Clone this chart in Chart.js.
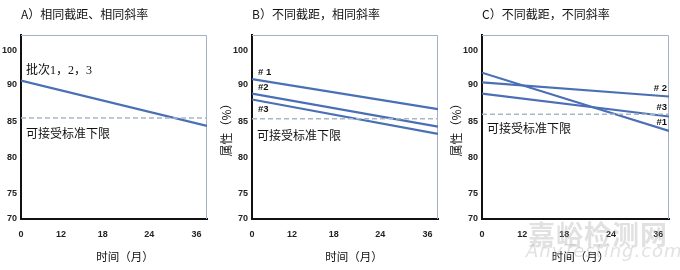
<!DOCTYPE html>
<html><head><meta charset="utf-8">
<script src="https://cdn.jsdelivr.net/npm/chart.js@4.4.0/dist/chart.umd.min.js"></script>
<style>
html,body{margin:0;padding:0;background:#fff;width:680px;height:270px;overflow:hidden}
.panel{position:absolute;top:0;height:270px}
.wm{position:absolute;color:rgba(170,170,170,0.35);white-space:nowrap;pointer-events:none;z-index:5}
</style></head><body>
<div class="panel" style="left:0;width:215px"><canvas id="cA" width="215" height="270"></canvas></div>
<div class="panel" style="left:215px;width:230px"><canvas id="cB" width="230" height="270"></canvas></div>
<div class="panel" style="left:445px;width:235px"><canvas id="cC" width="235" height="270"></canvas></div>
<div class="wm" style="left:528px;top:214px;font:bold 27px 'Noto Sans CJK SC';letter-spacing:1px">嘉峪检测网</div>
<div class="wm" style="left:526px;top:240px;font:italic 18px 'DejaVu Sans';letter-spacing:1px">AnyTesting.com</div>
<script>
// ---- data ----
const monthTicks = [0, 12, 18, 24, 36];
const percentTicks = [70, 75, 80, 85, 90, 100];
const months = [0, 39];               // start of study and right edge of the plot
const seriesA  = [91.2, 84.4];        // batches 1, 2, 3 (identical)
const seriesB1 = [91.6, 86.7];
const seriesB2 = [88.8, 84.3];
const seriesB3 = [88.0, 83.3];
const seriesC1 = [93.5, 83.7];
const seriesC2 = [90.7, 88.4];
const seriesC3 = [88.8, 85.7];
const limits = [85.5, 85.4, 86.0];    // acceptance lower limit line (A, B, C)
const titles = ['A）相同截距、相同斜率', 'B）不同截距，相同斜率', 'C）不同截距，不同斜率'];

// ---- axis geometry of the schematic (uneven label spacing) ----
const Y_BREAKS = [[70,0],[75,0.141],[80,0.335],[85,0.529],[90,0.73],[100,0.916],[104.5,1]];
const X_BREAKS = [[0,0],[12,0.215],[18,0.44],[24,0.69],[36,0.943],[39,1]];
function interp(bks, v, a, b) {
  if (v <= bks[0][a]) return bks[0][b];
  for (let i = 1; i < bks.length; i++) {
    if (v <= bks[i][a]) {
      const p = bks[i-1], q = bks[i];
      return p[b] + (v - p[a]) / (q[a] - p[a]) * (q[b] - p[b]);
    }
  }
  return bks[bks.length-1][b];
}
class PiecewiseScale extends Chart.LinearScale {
  _breaks() { return this.axis === 'x' ? X_BREAKS : Y_BREAKS; }
  getPixelForValue(value) { return this.getPixelForDecimal(interp(this._breaks(), value, 0, 1)); }
  getValueForPixel(pixel) { return interp(this._breaks(), this.getDecimalForPixel(pixel), 1, 0); }
  drawTitle() {
    const s = (this.options.title && this.options.title.shiftX) || 0;
    this.ctx.save(); this.ctx.translate(s, 0); super.drawTitle(); this.ctx.restore();
  }
}
PiecewiseScale.id = 'piecewise';
PiecewiseScale.defaults = Chart.LinearScale.defaults;
Chart.register(PiecewiseScale);

const LINE = '#4a6fb5';
const CJK = '"Noto Sans CJK SC", sans-serif';
const TICKFONT = {family: '"Liberation Sans", Arial, sans-serif', size: 9, weight: 'bold'};

function lineDs(vals) {
  return {data: months.map((m, i) => ({x: m, y: vals[i]})), borderColor: LINE, borderWidth: 2.2, pointRadius: 0, tension: 0, fill: false};
}
function limitDs(v) {
  return {data: months.map(m => ({x: m, y: v})), borderColor: '#a7b7c8', borderWidth: 1.5, borderDash: [5, 3], pointRadius: 0, fill: false};
}

const framePlugin = {
  id: 'frame',
  beforeDatasetsDraw(chart) {
    const {ctx, chartArea: a} = chart;
    ctx.save();
    ctx.strokeStyle = '#a4b1c4'; ctx.lineWidth = 1;
    ctx.beginPath();
    ctx.moveTo(a.left, a.top + 0.5); ctx.lineTo(a.right - 0.5, a.top + 0.5); ctx.lineTo(a.right - 0.5, a.bottom);
    ctx.stroke();
    ctx.restore();
  }
};
function notesPlugin(items) {
  return {
    id: 'notes',
    afterDatasetsDraw(chart) {
      const {ctx, scales} = chart;
      ctx.save();
      items.forEach(it => {
        ctx.font = it.font; ctx.fillStyle = '#111'; ctx.textAlign = it.align || 'left'; ctx.textBaseline = 'middle';
        ctx.fillText(it.text, scales.x.getPixelForValue(it.x) + it.dx, scales.y.getPixelForValue(it.y) + it.dy);
      });
      ctx.restore();
    }
  };
}

function makeChart(id, title, datasets, notes, yTitle, yWidth, padRight, xShift) {
  return new Chart(document.getElementById(id), {
    type: 'line',
    data: {datasets},
    options: {
      responsive: false, animation: false, devicePixelRatio: 1,
      layout: {padding: {left: 0, right: padRight, top: 0, bottom: 2}},
      plugins: {
        legend: {display: false}, tooltip: {enabled: false},
        title: {display: true, text: title, align: 'start', fullSize: false, color: '#111',
                font: {family: CJK, size: 12, weight: 'normal'}, padding: {top: 7, bottom: 13.6}}
      },
      scales: {
        x: {type: 'piecewise', min: 0, max: 39, grid: {display: false, drawTicks: false},
            border: {display: true, color: '#111', width: 2},
            ticks: {font: TICKFONT, color: '#222', padding: 10, maxRotation: 0, autoSkip: false},
            afterBuildTicks: s => { s.ticks = monthTicks.map(v => ({value: v})); },
            title: {display: true, text: '时间（月）', color: '#111', font: {family: CJK, size: 11.5}, shiftX: xShift},
            afterFit: s => { s.height = 49; }},
        y: {type: 'piecewise', min: 70, max: 104.5, grid: {display: false, drawTicks: false},
            border: {display: true, color: '#111', width: 2},
            ticks: {font: TICKFONT, color: '#222', padding: 4, autoSkip: false},
            afterBuildTicks: s => { s.ticks = percentTicks.map(v => ({value: v})); },
            title: {display: !!yTitle, text: yTitle || '', color: '#111', font: {family: CJK, size: 12}},
            afterFit: s => { s.width = yWidth; }}
      }
    },
    plugins: [framePlugin, notesPlugin(notes)]
  });
}

const noteFont = '12px ' + CJK;
const tagFont = 'bold 9.5px "Liberation Sans", Arial, sans-serif';

makeChart('cA', titles[0], [limitDs(limits[0]), lineDs(seriesA)], [
  {text: '批次1，2，3', x: 0, y: seriesA[0], dx: 5, dy: -10, font: '12px "Liberation Serif", ' + CJK},
  {text: '可接受标准下限', x: 0, y: limits[0], dx: 5, dy: 15, font: noteFont}
], null, 21, 8, 11);

makeChart('cB', titles[1], [limitDs(limits[1]), lineDs(seriesB1), lineDs(seriesB2), lineDs(seriesB3)], [
  {text: '# 1', x: 0, y: seriesB1[0], dx: 6, dy: -7, font: tagFont},
  {text: '#2', x: 0, y: seriesB2[0], dx: 6, dy: -6, font: tagFont},
  {text: '#3', x: 0, y: seriesB3[0], dx: 6, dy: 10, font: tagFont},
  {text: '可接受标准下限', x: 0, y: limits[1], dx: 5, dy: 17, font: noteFont}
], '属性（%）', 37, 7, 9);

makeChart('cC', titles[2], [limitDs(limits[2]), lineDs(seriesC1), lineDs(seriesC2), lineDs(seriesC3)], [
  {text: '# 2', x: 39, y: seriesC2[1], dx: -2, dy: -8, align: 'right', font: tagFont},
  {text: '#3', x: 39, y: seriesC3[1], dx: -2, dy: -9, align: 'right', font: tagFont},
  {text: '#1', x: 39, y: seriesC1[1], dx: -2, dy: -9, align: 'right', font: tagFont},
  {text: '可接受标准下限', x: 0, y: limits[2], dx: 5, dy: 14, font: noteFont}
], '属性（%）', 37, 11, 5);
</script>
</body></html>
